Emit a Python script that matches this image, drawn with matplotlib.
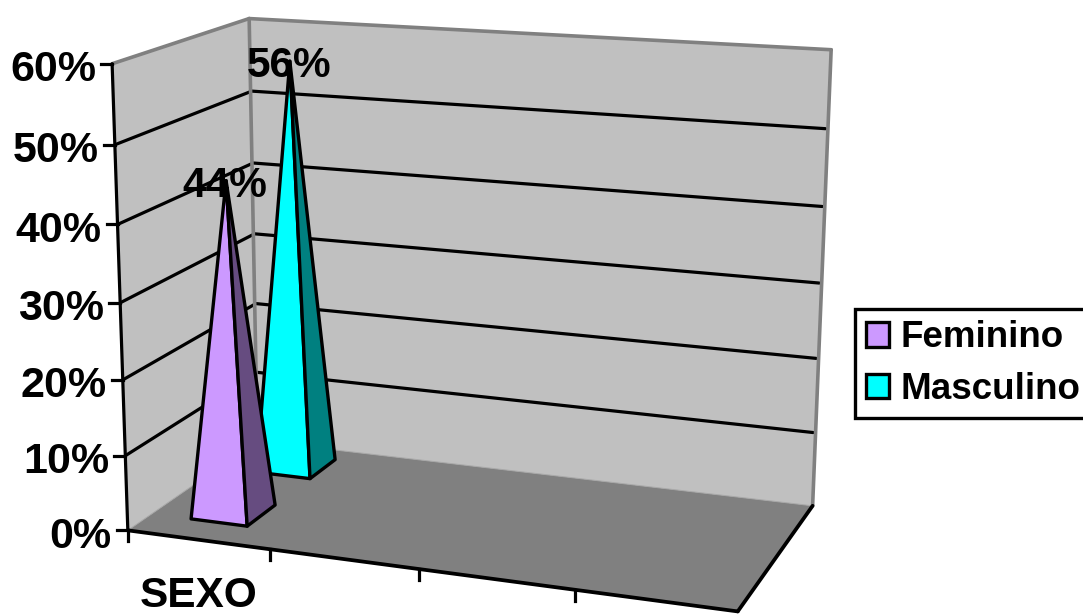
import numpy as np
import matplotlib
matplotlib.use("Agg")
from matplotlib import pyplot as plt
from matplotlib.patches import Patch, Polygon

plt.rcParams["font.family"] = ["Liberation Sans", "DejaVu Sans"]
plt.rcParams["font.weight"] = "bold"

# chart values
categories = ["SEXO", "", "", ""]
series_names = ["Feminino", "Masculino"]
series_values = [44, 56]
tick_values = [0, 10, 20, 30, 40, 50, 60]
z_max = 60

face_colors = ["#CC99FF", "#00FFFF"]
side_colors = ["#664C80", "#008080"]

# floor footprint of each pyramid: (across start, across end, depth start, depth end)
footprints = [(0.071, 0.171, 0.17, 0.39), (0.071, 0.171, 0.68, 0.90)]

# box corners on the canvas, (across, depth, height) -> pixel; the camera is fitted from them
box_points = [
    ((0, 0, 0), (129, 529)),
    ((0, 0, 1), (111, 64)),
    ((0, 1, 0), (256, 445)),
    ((0, 1, 1), (251, 17)),
    ((1, 1, 0), (812, 503)),
    ((1, 1, 1), (831, 51)),
    ((1, 0, 0), (738, 613)),
    ((1, 0, 0), (738, 613)),
    ((0, 0, 5 / 6), (114, 147)),
    ((0, 0, 4 / 6), (117, 225)),
    ((0, 0, 0.5), (120, 302)),
    ((0, 0, 2 / 6), (123, 378)),
    ((0, 0, 1 / 6), (126, 454)),
    ((1, 1, 0.5), (822, 282)),
]


def fit_camera(points):
    rows = []
    rhs = []
    for (x, y, z), (u, v) in points:
        rows.append([x, y, z, 1, 0, 0, 0, 0, -u * x, -u * y, -u * z])
        rows.append([0, 0, 0, 0, x, y, z, 1, -v * x, -v * y, -v * z])
        rhs += [u, v]
    sol = np.linalg.lstsq(np.array(rows, float), np.array(rhs, float), rcond=None)[0]
    return np.append(sol, 1).reshape(3, 4)


camera = fit_camera(box_points)


def project(x, y, value):
    p = camera @ np.array([x, y, value / z_max, 1.0])
    return p[0] / p[2], p[1] / p[2]


def line3d(ax, a, b, color="black", lw=2.3, z=3, **kw):
    p, q = project(*a), project(*b)
    ax.plot([p[0], q[0]], [p[1], q[1]], color=color, lw=lw, zorder=z,
            solid_capstyle="round", **kw)


def face(ax, corners, color, z):
    pts = [project(*c) for c in corners]
    ax.add_patch(Polygon(pts, closed=True, facecolor=color, edgecolor=color, lw=0, zorder=z))


fig = plt.figure(figsize=(10.83, 6.15), dpi=100)
ax = fig.add_axes([0, 0, 1, 1])
ax.set_xlim(0, 1083)
ax.set_ylim(615, 0)
ax.axis("off")

# walls and floor
face(ax, [(0, 0, 0), (0, 0, z_max), (0, 1, z_max), (0, 1, 0)], "#C0C0C0", 1)
face(ax, [(0, 1, 0), (0, 1, z_max), (1, 1, z_max), (1, 1, 0)], "#C0C0C0", 1)
face(ax, [(0, 0, 0), (0, 1, 0), (1, 1, 0), (1, 0, 0)], "#808080", 2)

# gridlines
for v in tick_values[1:-1]:
    line3d(ax, (0, 0, v), (0, 0.99, v))
    line3d(ax, (0, 1.01, v), (0.996, 1, v))

# wall outlines
grey = "#808080"
line3d(ax, (0, 0, z_max), (0, 1, z_max), color=grey, lw=2.6, z=4)
line3d(ax, (0, 1, z_max), (1, 1, z_max), color=grey, lw=2.6, z=4)
line3d(ax, (0, 1, 0), (0, 1, z_max), color=grey, lw=2.6, z=4)
line3d(ax, (1, 1, 0), (1, 1, z_max), color=grey, lw=2.6, z=4)
line3d(ax, (0, 1, 0), (1, 1, 0), color="#A8A8A8", lw=0.7, z=4)
line3d(ax, (0, 0, 0), (0, 1, 0), color="#A8A8A8", lw=0.7, z=4)

# axes, ticks and tick labels
line3d(ax, (0, 0, 0), (0, 0, z_max), z=5)
line3d(ax, (0, 0, 0), (1, 0, 0), z=5, lw=2.7)
line3d(ax, (1, 0, 0), (1, 1, 0), z=5, lw=2.7)
for v in tick_values:
    x0, y0 = project(0, 0, v)
    ax.plot([x0 - 11, x0], [y0, y0], color="black", lw=2.3, zorder=5)
    ax.text(x0 - 16, y0 + 2, f"{v}%", ha="right", va="center_baseline", fontsize=31, zorder=6)
for i in range(len(categories)):
    x0, y0 = project(i / len(categories), 0, 0)
    ax.plot([x0, x0], [y0, y0 + 11], color="black", lw=2.3, zorder=5)
    if categories[i]:
        x1, y1 = project((i + 0.5) / len(categories), 0, 0)
        ax.text(x1, y1 + 52, categories[i], ha="center", va="center_baseline", fontsize=30.5, zorder=6)


# pyramids, back series first
def pyramid(ax, fp, value, face_color, side_color, z):
    s0, s1, t0, t1 = fp
    apex = ((s0 + s1) / 2, (t0 + t1) / 2, value)
    fl, fr, br = (s0, t0, 0), (s1, t0, 0), (s1, t1, 0)
    for corners, color in (([fl, fr, apex], face_color), ([fr, br, apex], side_color)):
        pts = [project(*c) for c in corners]
        ax.add_patch(Polygon(pts, closed=True, facecolor=color, edgecolor="black",
                             lw=2.4, joinstyle="round", zorder=z))
    return project(*apex)


for i in (1, 0):
    tip = pyramid(ax, footprints[i], series_values[i], face_colors[i], side_colors[i], 7 + (1 - i))
    ax.text(tip[0] - 1, tip[1] + 0.5, f"{series_values[i]}%", ha="center", va="center_baseline",
            fontsize=30.5, zorder=10)

# legend
handles = [Patch(facecolor=c, edgecolor="black", lw=2.4) for c in face_colors]
ax.legend(handles, series_names, loc="upper left", bbox_to_anchor=(855, 309),
          bbox_transform=ax.transData, borderaxespad=0, fontsize=26.5, fancybox=False,
          edgecolor="black", framealpha=1, handlelength=0.62, handleheight=0.66,
          handletextpad=0.32, labelspacing=0.46, borderpad=0.3).get_frame().set_linewidth(2.4)

fig.savefig("out.png", dpi=100)
